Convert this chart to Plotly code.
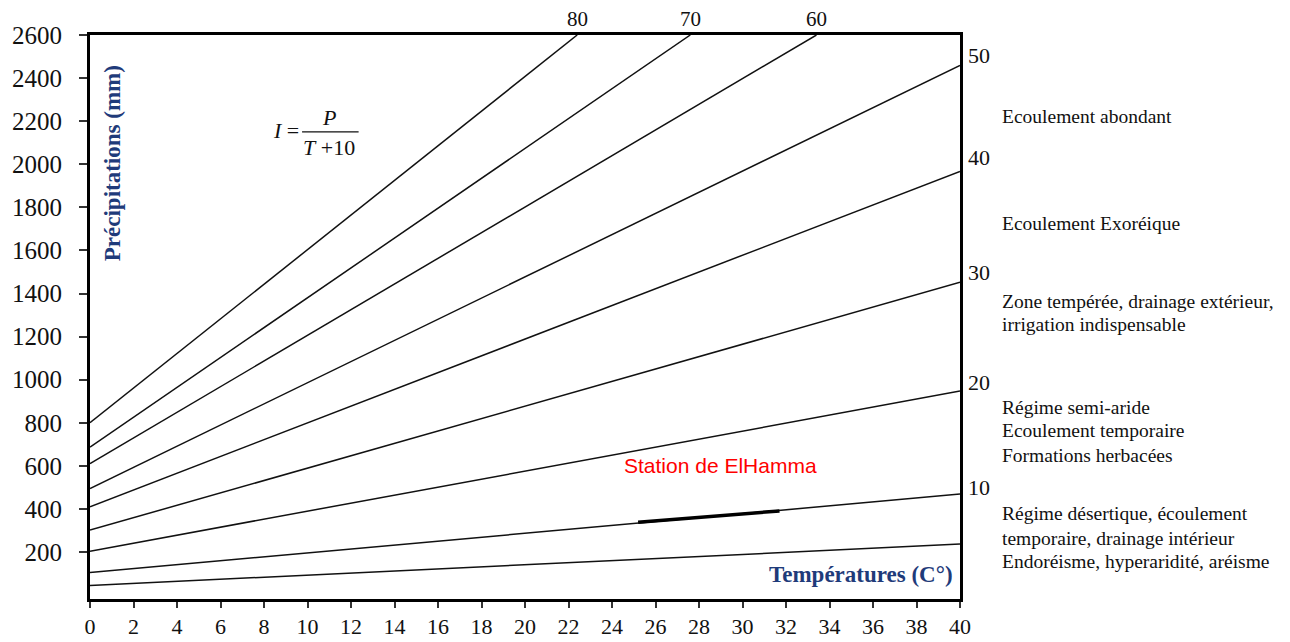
import plotly.graph_objects as go

# De Martonne aridity index lines I = P / (T + 10)
indices = [5, 10, 20, 30, 40, 50, 60, 70, 80]
t_start = [0, 0, 0, 0, 0, 0, 0, 0, 0]
p_start = [45, 105, 204, 302, 410, 495, 610, 687, 800]
t_end = [40, 40, 40, 40, 40, 40, 33.4, 27.6, 22.4]
p_end = [237, 469, 947, 1452, 1967, 2459, 2600, 2600, 2600]

# station segment drawn thicker on the I=10 line
station_t = [25.2, 31.7]
station_p = [338, 391]

# index labels on the right edge
right_labels = ['50', '40', '30', '20', '10']
right_label_p = [2506, 2032, 1499, 988, 501]

# index labels on the top edge
top_labels = ['80', '70', '60']
top_label_t = [22.4, 27.6, 33.4]

# zone descriptions, one entry per text line
zone_lines = [
    'Ecoulement abondant',
    'Ecoulement Exoréique',
    'Zone tempérée, drainage extérieur,',
    'irrigation indispensable',
    'Régime semi-aride',
    'Ecoulement temporaire',
    'Formations herbacées',
    'Régime désertique, écoulement',
    'temporaire, drainage intérieur',
    'Endoréisme, hyperaridité, aréisme',
]
zone_line_p = [2224, 1723, 1365, 1254, 869, 762, 646, 377, 265, 154]

y_ticks = list(range(200, 2601, 200))
x_ticks = list(range(0, 41, 2))

SERIF = 'Liberation Serif, Times New Roman, serif'
BLUE = '#1f3b7a'

fig = go.Figure()
for i in range(len(indices)):
    fig.add_trace(go.Scatter(
        x=[t_start[i], t_end[i]], y=[p_start[i], p_end[i]],
        mode='lines', line=dict(color='#111', width=1.5),
        name='I=%d' % indices[i], hoverinfo='name'))

fig.add_trace(go.Scatter(x=station_t, y=station_p, mode='lines',
                         line=dict(color='#000', width=3.5), name='ElHamma'))

ann = []
for lab, p in zip(right_labels, right_label_p):
    ann.append(dict(x=40, y=p, xref='x', yref='y', text=lab, showarrow=False,
                    xanchor='left', xshift=6, font=dict(size=22, family=SERIF, color='#111')))
for lab, t in zip(top_labels, top_label_t):
    ann.append(dict(x=t, y=2600, xref='x', yref='y', text=lab, showarrow=False,
                    yanchor='bottom', yshift=2, font=dict(size=21, family=SERIF, color='#111')))
for lab, p in zip(zone_lines, zone_line_p):
    ann.append(dict(x=1.046, y=p, xref='paper', yref='y', text=lab, showarrow=False,
                    xanchor='left', align='left', font=dict(size=19.5, family=SERIF, color='#111')))

# formula I = P / (T+10)
ann += [
    dict(x=9.0, y=2158, text='<i>I</i> =', showarrow=False, font=dict(size=22, family=SERIF, color='#111')),
    dict(x=11.0, y=2215, text='<i>P</i>', showarrow=False, font=dict(size=22, family=SERIF, color='#111')),
    dict(x=11.0, y=2078, text='<i>T</i> +10', showarrow=False, font=dict(size=22, family=SERIF, color='#111')),
    dict(x=29.0, y=603, text='Station de ElHamma', showarrow=False,
         font=dict(size=21, family='Liberation Sans, Arial', color='red')),
    dict(x=0.026, y=0.772, xref='paper', yref='paper', text='<b>Précipitations (mm)</b>', showarrow=False,
         textangle=-90, xanchor='center', yanchor='middle',
         font=dict(size=23, family=SERIF, color=BLUE)),
    dict(x=0.994, y=0.043, xref='paper', yref='paper', text='<b>Températures (C°)</b>', showarrow=False,
         xanchor='right', yanchor='middle', font=dict(size=23, family=SERIF, color=BLUE)),
]

fig.add_shape(type='line', x0=9.75, x1=12.35, y0=2150, y1=2150, line=dict(color='#111', width=1.2))

# page body keeps its default 8px margin, so the figure is sized to the rest of the window
fig.update_layout(
    width=1282, height=634,
    margin=dict(l=82, r=330, t=27, b=43),
    paper_bgcolor='white', plot_bgcolor='white',
    showlegend=False,
    annotations=ann,
    xaxis=dict(range=[0, 40], tickvals=x_ticks, showgrid=False, zeroline=False, automargin=False,
               showline=True, linecolor='#000', linewidth=3, mirror=True,
               ticks='outside', ticklen=6, tickwidth=2, tickcolor='#333',
               tickfont=dict(size=22, family=SERIF, color='#111')),
    yaxis=dict(range=[-18, 2600], tickvals=y_ticks, showgrid=False, zeroline=False, automargin=False,
               showline=True, linecolor='#000', linewidth=3, mirror=True,
               ticks='outside', ticklen=8, tickwidth=2, tickcolor='#333',
               ticklabelstandoff=12,
               tickfont=dict(size=25, family=SERIF, color='#111')),
)

fig.write_html('out.html')
